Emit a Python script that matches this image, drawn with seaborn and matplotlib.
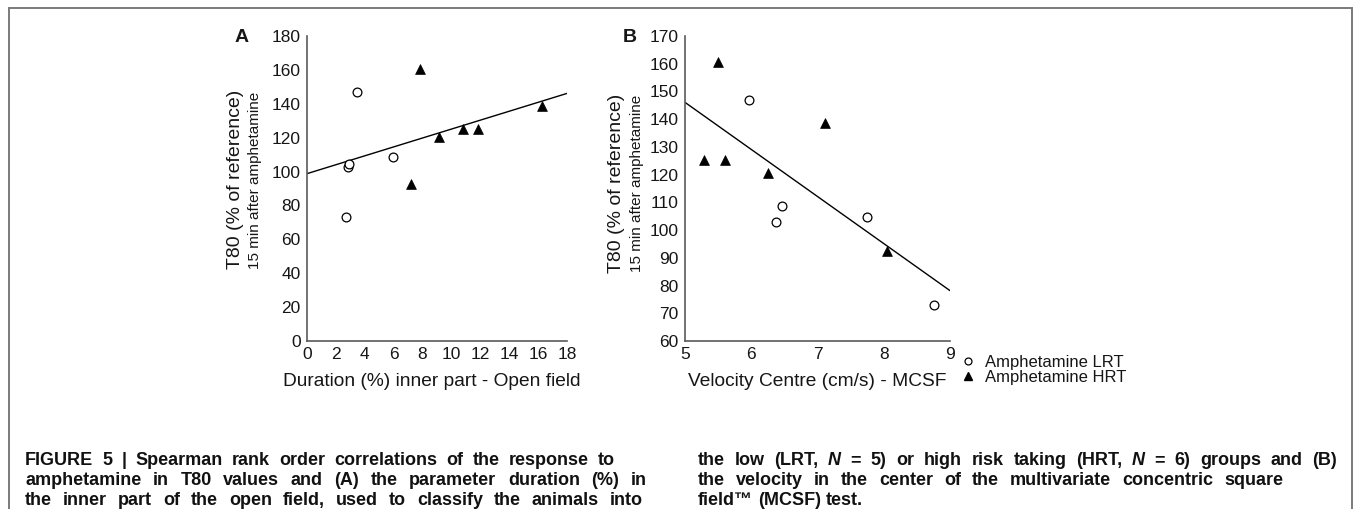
import numpy as np
import pandas as pd
import matplotlib
matplotlib.use("Agg")
import matplotlib.pyplot as plt
import matplotlib.transforms as mtransforms
from matplotlib.patches import Rectangle
from matplotlib.lines import Line2D
import seaborn as sns

# ---------------- data ----------------
t80_lrt = [72.9, 102.8, 104.7, 147.0, 108.7]
t80_hrt = [92.5, 160.8, 120.6, 125.4, 125.4, 138.5]
duration_lrt = [2.68, 2.86, 2.91, 3.46, 5.93]
duration_hrt = [7.20, 7.85, 9.14, 10.78, 11.86, 16.25]
velocity_lrt = [8.76, 6.38, 7.74, 5.97, 6.46]
velocity_hrt = [8.05, 5.50, 6.26, 5.28, 5.60, 7.11]

xticks_a = [0, 2, 4, 6, 8, 10, 12, 14, 16, 18]
yticks_a = [0, 20, 40, 60, 80, 100, 120, 140, 160, 180]
xticks_b = [5, 6, 7, 8, 9]
yticks_b = [60, 70, 80, 90, 100, 110, 120, 130, 140, 150, 160, 170]

group_labels = ["Amphetamine LRT", "Amphetamine HRT"]
xlabel_a = "Duration (%) inner part - Open field"
xlabel_b = "Velocity Centre (cm/s) - MCSF"
ylabel_main = "T80 (% of reference)"
ylabel_sub = "15 min after amphetamine"

caption_left = [
    "FIGURE 5 | Spearman rank order correlations of the response to",
    "amphetamine in T80 values and (A) the parameter duration (%) in",
    "the inner part of the open field, used to classify the animals into",
]
caption_right = [
    "the low (LRT, N = 5) or high risk taking (HRT, N = 6) groups and (B)",
    "the velocity in the center of the multivariate concentric square",
    "field\u2122 (MCSF) test.",
]

# ---------------- styling ----------------
sns.set_style("white")
plt.rcParams["font.family"] = ["Liberation Sans", "DejaVu Sans"]
TXT = "#161616"
SPINE = "#5a5a5a"

W, H = 1355, 509
fig = plt.figure(figsize=(W / 100, H / 100), dpi=100)
fig.patch.set_facecolor("white")
PX = mtransforms.IdentityTransform()


def px_axes(l, t, r, b):
    return fig.add_axes([l / W, 1 - b / H, (r - l) / W, (b - t) / H])


def ftext(x, y, s, **kw):
    # x, y in image pixels measured from top-left
    return fig.text(x, H - y, s, transform=PX, **kw)


def panel(ax, x_lrt, x_hrt, xticks, yticks):
    df = pd.DataFrame({
        "x": list(x_lrt) + list(x_hrt),
        "t80": list(t80_lrt) + list(t80_hrt),
        "group": [group_labels[0]] * len(x_lrt) + [group_labels[1]] * len(x_hrt),
    })
    ax.set_xlim(xticks[0], xticks[-1])
    ax.set_ylim(yticks[0], yticks[-1])
    sns.regplot(data=df, x="x", y="t80", scatter=False, ci=None, truncate=False,
                ax=ax, line_kws=dict(color="black", lw=1.0))
    sub_l = df[df.group == group_labels[0]]
    sub_h = df[df.group == group_labels[1]]
    sns.scatterplot(data=sub_l, x="x", y="t80", marker="o", s=40, color="black",
                    facecolor="white", edgecolor="black", linewidth=0.9, ax=ax, zorder=3)
    sns.scatterplot(data=sub_h, x="x", y="t80", marker="^", s=50, color="black",
                    edgecolor="black", linewidth=0.5, ax=ax, zorder=3)
    ax.set_xlim(xticks[0], xticks[-1])
    ax.set_ylim(yticks[0], yticks[-1])
    ax.set_xticks(xticks)
    ax.set_yticks(yticks)
    ax.set_xlabel("")
    ax.set_ylabel("")
    for side in ("top", "right"):
        ax.spines[side].set_visible(False)
    for side in ("left", "bottom"):
        ax.spines[side].set_color(SPINE)
        ax.spines[side].set_linewidth(1.2)
    ax.tick_params(axis="both", direction="in", length=3, width=1.0, color=SPINE,
                   labelcolor=TXT, labelsize=12.5)
    ax.tick_params(axis="x", pad=4.5)
    ax.tick_params(axis="y", pad=4.5)
    ax.set_facecolor("white")
    if ax.get_legend() is not None:
        ax.get_legend().remove()


axA = px_axes(307, 36, 567, 341)
axB = px_axes(685, 36, 950, 341)
panel(axA, duration_lrt, duration_hrt, xticks_a, yticks_a)
panel(axB, velocity_lrt, velocity_hrt, xticks_b, yticks_b)

# axis titles
ftext(235, 179, ylabel_main, rotation=90, fontsize=14, ha="center", va="center", color=TXT)
ftext(255, 180, ylabel_sub, rotation=90, fontsize=11, ha="center", va="center", color=TXT)
ftext(616.5, 183, ylabel_main, rotation=90, fontsize=14, ha="center", va="center", color=TXT)
ftext(636.5, 183, ylabel_sub, rotation=90, fontsize=11, ha="center", va="center", color=TXT)
ftext(432, 382, xlabel_a, fontsize=13.8, ha="center", va="center", color=TXT)
ftext(817.5, 382, xlabel_b, fontsize=13.8, ha="center", va="center", color=TXT)

# panel letters
ftext(241.5, 37, "A", fontsize=14, fontweight="bold", ha="center", va="center", color=TXT)
ftext(630, 37, "B", fontsize=14, fontweight="bold", ha="center", va="center", color=TXT)

# legend
handles = [
    Line2D([], [], marker="o", ls="none", mfc="white", mec="black", ms=5, mew=0.9),
    Line2D([], [], marker="^", ls="none", mfc="black", mec="black", ms=6),
]
fig.legend(handles, group_labels, loc="upper left",
           bbox_to_anchor=(960 / W, 1 - 355 / H), frameon=False, fontsize=12,
           handlelength=1.0, handletextpad=0.5, borderpad=0, borderaxespad=0,
           labelspacing=0.0, labelcolor=TXT)

# frame around the figure
fig.patches.append(Rectangle((9, -20), 1343, H - 8 + 20, transform=PX, fill=False,
                             edgecolor="#7a7a7a", lw=1.4, zorder=0))

# caption, words spread to each line's right edge as in the reference
CAP_SIZE = 13
renderer = fig.canvas.get_renderer()


def caption_line(line, x0, x1, y):
    words = line.split(" ")
    items = []
    for w in words:
        style = "italic" if w == "N" else "normal"
        t = ftext(0, y, w, fontsize=CAP_SIZE, fontweight="bold", fontstyle=style,
                  ha="left", va="baseline", color="#111111")
        items.append(t)
    widths = [t.get_window_extent(renderer).width for t in items]
    if x1 is None or len(items) == 1:
        a = ftext(0, y, "a a", fontsize=CAP_SIZE, fontweight="bold")
        b = ftext(0, y, "aa", fontsize=CAP_SIZE, fontweight="bold")
        gap = a.get_window_extent(renderer).width - b.get_window_extent(renderer).width
        a.remove(); b.remove()
    else:
        gap = (x1 - x0 - sum(widths)) / (len(items) - 1)
    x = x0
    for t, w in zip(items, widths):
        t.set_position((x, H - y))
        x += w + gap


baselines = [465, 485, 505]
left_ends = [615, 647, 643]
right_ends = [1337, 1283, None]
for i, line in enumerate(caption_left):
    caption_line(line, 25, left_ends[i], baselines[i])
for i, line in enumerate(caption_right):
    caption_line(line, 698, right_ends[i], baselines[i])

fig.savefig("out.png", dpi=100, facecolor="white")
